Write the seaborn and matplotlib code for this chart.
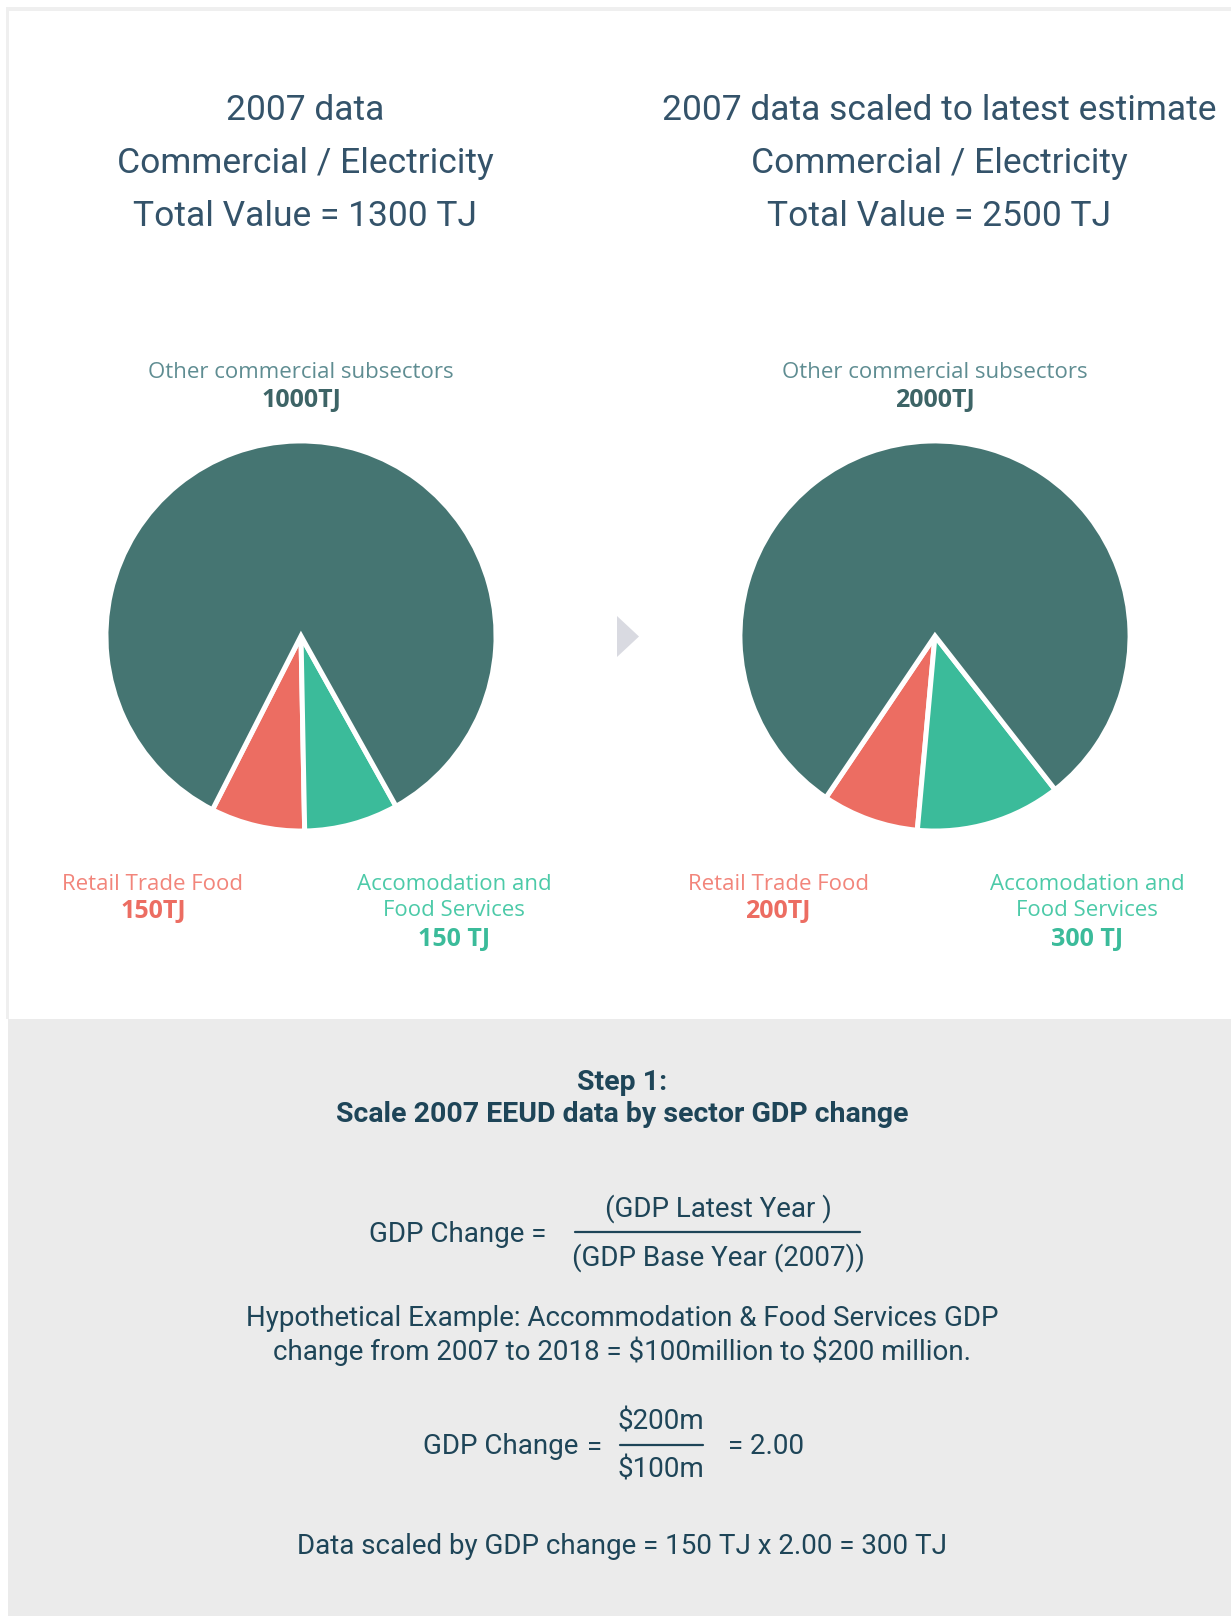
import matplotlib
matplotlib.use("Agg")
import matplotlib.pyplot as plt
import matplotlib.patches as mpatches
import seaborn as sns

# Canvas (pixels at dpi 100)
W, H = 1231, 1616
DPI = 100

# Data
slice_names = ["Retail Trade Food", "Accomodation and\nFood Services", "Other commercial subsectors"]
left_values = ["150TJ", "150 TJ", "1000TJ"]
right_values = ["200TJ", "300 TJ", "2000TJ"]
# wedge shares as drawn in the picture (percent)
left_shares = [7.8, 7.8, 84.4]
right_shares = [8.0, 12.0, 80.0]

left_title = ["2007 data", "Commercial / Electricity", "Total Value = 1300 TJ"]
right_title = ["2007 data scaled to latest estimate", "Commercial / Electricity", "Total Value = 2500 TJ"]

step_title = ["Step 1:", "Scale 2007 EEUD data by sector GDP change"]
formula_num = "(GDP Latest Year )"
formula_den = "(GDP Base Year (2007))"
example_text = ["Hypothetical Example: Accommodation & Food Services GDP",
                "change from 2007 to 2018 = $100million to $200 million."]
example_num = "$200m"
example_den = "$100m"
example_result = "= 2.00"
scaled_text = "Data scaled by GDP change = 150 TJ x 2.00 = 300 TJ"

# Colours
C_OTHER = "#457572"
C_RETAIL = "#ec6d62"
C_ACCOM = "#3bbb9a"
C_OTHER_LBL = "#5f8d92"
C_RETAIL_LBL = "#f2857b"
C_ACCOM_LBL = "#4ccaa8"
C_TITLE = "#34536a"
C_BODY = "#1e4558"
C_PANEL = "#ebebeb"
C_FRAME = "#efefef"
C_ARROW = "#d9dae1"

COND = ["Roboto", "DejaVu Sans"]
ROUND = ["Open Sans", "DejaVu Sans"]


def draw_pie(fig, cx, cy, r, shares, startangle):
    ax = fig.add_axes([(cx - r) / W, 1 - (cy + r) / H, 2 * r / W, 2 * r / H])
    ax.pie(shares, colors=[C_RETAIL, C_ACCOM, C_OTHER], startangle=startangle,
           counterclock=True, radius=1,
           wedgeprops=dict(edgecolor="white", linewidth=3.6))
    ax.set_xlim(-1.01, 1.01)
    ax.set_ylim(-1.01, 1.01)
    ax.set_axis_off()
    return ax


def pie_labels(bg, cx, x_retail, x_accom, values):
    bg.text(cx, 372, slice_names[2], ha="center", va="center", fontsize=16,
            color=C_OTHER_LBL, family=ROUND)
    bg.text(cx, 400, values[2], ha="center", va="center", fontsize=18,
            color="#3d6466", family=ROUND, weight="bold")
    bg.text(x_retail, 884, slice_names[0], ha="center", va="center", fontsize=16,
            color=C_RETAIL_LBL, family=ROUND)
    bg.text(x_retail, 911, values[0], ha="center", va="center", fontsize=18,
            color=C_RETAIL, family=ROUND, weight="bold")
    lines = slice_names[1].split("\n")
    bg.text(x_accom, 884, lines[0], ha="center", va="center", fontsize=16,
            color=C_ACCOM_LBL, family=ROUND)
    bg.text(x_accom, 911, lines[1], ha="center", va="center", fontsize=16,
            color=C_ACCOM_LBL, family=ROUND)
    bg.text(x_accom, 939, values[1], ha="center", va="center", fontsize=18,
            color=C_ACCOM, family=ROUND, weight="bold")


def body(bg, x, y, s, ha="center", **kw):
    bg.text(x, y, s, ha=ha, va="center", fontsize=kw.pop("fontsize", 20),
            color=C_BODY, family=COND, parse_math=False, **kw)


def main():
    sns.set_theme(style="white")
    fig = plt.figure(figsize=(W / DPI, H / DPI), dpi=DPI, facecolor="white")

    # background axes in pixel coordinates (y down)
    bg = fig.add_axes([0, 0, 1, 1])
    bg.set_xlim(0, W)
    bg.set_ylim(H, 0)
    bg.set_axis_off()

    bg.add_patch(mpatches.Rectangle((6, 7), W - 6, 4, color=C_FRAME, lw=0))
    bg.add_patch(mpatches.Rectangle((6, 7), 3, 1012, color=C_FRAME, lw=0))
    bg.add_patch(mpatches.Rectangle((8, 1019), W - 8, H - 1019, color=C_PANEL, lw=0))

    # titles
    for i, (lt, rt) in enumerate(zip(left_title, right_title)):
        y = 110 + i * 53
        bg.text(305, y, lt, ha="center", va="center", fontsize=25.5, color=C_TITLE,
                family=COND)
        bg.text(939, y, rt, ha="center", va="center", fontsize=25.5, color=C_TITLE,
                family=COND)

    # pies
    draw_pie(fig, 301, 636, 197, left_shares, -117)
    draw_pie(fig, 935, 636, 197, right_shares, -124)
    pie_labels(bg, 301, 153, 454, left_values)
    pie_labels(bg, 935, 778, 1087, right_values)

    # arrow between pies
    bg.add_patch(mpatches.Polygon([[617, 616], [617, 657], [639, 636.5]], closed=True,
                                  color=C_ARROW, lw=0))

    # bottom panel text
    body(bg, 622, 1082, step_title[0], fontsize=20.5, weight="bold")
    body(bg, 622, 1114, step_title[1], fontsize=20.5, weight="bold")

    body(bg, 369, 1234, "GDP Change =", ha="left")
    body(bg, 718, 1209, formula_num)
    bg.plot([575, 860], [1232, 1232], color=C_BODY, lw=1.6)
    body(bg, 718, 1258, formula_den)

    body(bg, 622, 1318, example_text[0])
    body(bg, 622, 1351, example_text[1])

    body(bg, 423, 1447, "GDP Change", ha="left")
    body(bg, 595, 1447, "=")
    body(bg, 661, 1422, example_num)
    bg.plot([620, 703], [1445, 1445], color=C_BODY, lw=1.6)
    body(bg, 661, 1470, example_den)
    body(bg, 728, 1447, example_result, ha="left")

    body(bg, 622, 1547, scaled_text)

    fig.savefig("out.png", dpi=DPI, facecolor="white")
    plt.close(fig)


if __name__ == "__main__":
    main()
